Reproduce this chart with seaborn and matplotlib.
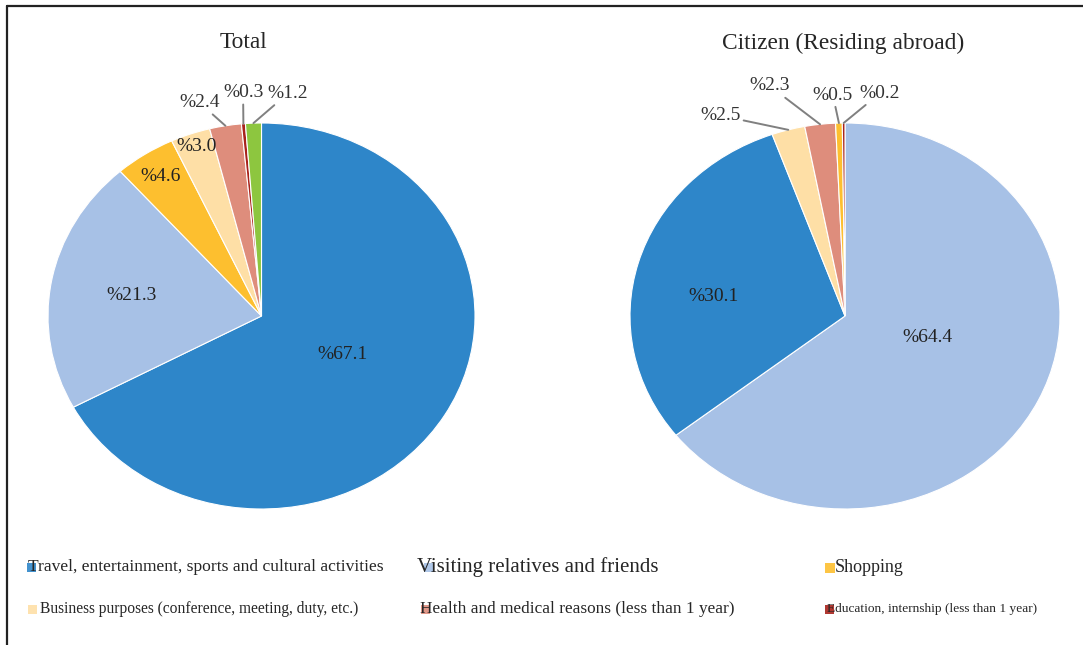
import numpy as np
import matplotlib
matplotlib.use("Agg")
import matplotlib.pyplot as plt
import seaborn as sns
from matplotlib.patches import Rectangle
from matplotlib.lines import Line2D

# ---------------- data ----------------
cat_travel = "Travel, entertainment, sports and cultural activities"
cat_visit = "Visiting relatives and friends"
cat_shop = "Shopping"
cat_business = "Business purposes (conference, meeting, duty, etc.)"
cat_health = "Health and medical reasons (less than 1 year)"
cat_edu = "Education, internship (less than 1 year)"
cat_other = "Other"

total_title = "Total"
total_categories = [cat_travel, cat_visit, cat_shop, cat_business, cat_health, cat_edu, cat_other]
total_values = [67.1, 21.3, 4.6, 3.0, 2.4, 0.3, 1.2]

citizen_title = "Citizen (Residing abroad)"
citizen_categories = [cat_visit, cat_travel, cat_business, cat_health, cat_shop, cat_edu]
citizen_values = [64.4, 30.1, 2.5, 2.3, 0.5, 0.2]

legend_categories = [cat_travel, cat_visit, cat_shop, cat_business, cat_health, cat_edu]

# ---------------- style ----------------
colors = {
    cat_travel: "#2E86C9",
    cat_visit: "#A7C1E6",
    cat_shop: "#FDBF2F",
    cat_business: "#FEDFA6",
    cat_health: "#DE8D7C",
    cat_edu: "#A8231C",
    cat_other: "#8DC63F",
}

# label placement per wedge: (outside?, radial distance, angle offset from wedge middle)
total_label_pos = [(False, 0.43, 3.0), (False, 0.62, 0.3), (False, 0.865, 0.0),
                   (False, 0.93, -0.4), (True, 1.143, 5.0), (True, 1.16, -0.6),
                   (True, 1.16, -8.3)]
citizen_label_pos = [(False, 0.40, 9.4), (False, 0.62, 6.4), (True, 1.19, 13.9),
                     (True, 1.242, 9.7), (True, 1.146, 1.2), (True, 1.166, -8.4)]

sns.set_theme(style="white")
plt.rcParams["font.family"] = ["Liberation Serif", "DejaVu Serif"]

W, H = 1083, 645
fig = plt.figure(figsize=(W / 100, H / 100), dpi=100)
fig.patch.set_facecolor("white")


def px_axes(x0, y0, x1, y1):
    return fig.add_axes([x0 / W, 1 - y1 / H, (x1 - x0) / W, (y1 - y0) / H])


def draw_pie(ax, values, cats, label_pos):
    wedges, _ = ax.pie(values, colors=[colors[c] for c in cats], startangle=90,
                       counterclock=False, radius=1.0,
                       wedgeprops=dict(edgecolor="white", linewidth=0.8))
    ax.set_aspect("auto")
    ax.set_xlim(-1, 1)
    ax.set_ylim(-1, 1)
    ax.axis("off")
    for w, v, (outside, r, dth) in zip(wedges, values, label_pos):
        mid = 0.5 * (w.theta1 + w.theta2)
        ang = np.deg2rad(mid + dth)
        tx, ty = r * np.cos(ang), r * np.sin(ang)
        txt = f"%{v:.1f}"
        if outside:
            ex, ey = np.cos(np.deg2rad(mid)), np.sin(np.deg2rad(mid))
            ax.annotate(txt, xy=(ex, ey), xytext=(tx, ty), ha="center", va="center",
                        fontsize=14, color="#333333", annotation_clip=False,
                        arrowprops=dict(arrowstyle="-", color="#808080", lw=1.4,
                                        shrinkA=0, shrinkB=0))
        else:
            ax.text(tx, ty, txt, ha="center", va="center", fontsize=14, color="#222222")


ax1 = px_axes(48, 123, 475, 509)
draw_pie(ax1, total_values, total_categories, total_label_pos)
ax2 = px_axes(630, 123, 1060, 509)
draw_pie(ax2, citizen_values, citizen_categories, citizen_label_pos)

fig.text(243 / W, 1 - 43 / H, total_title, ha="center", va="center", fontsize=16.8, color="#262626")
fig.text(843 / W, 1 - 43 / H, citizen_title, ha="center", va="center", fontsize=16.8, color="#262626")

# ---------------- legend ----------------
legend_layout = [  # marker x, text x, y, fontsize, marker size
    (27, 28, 567, 12.6, 9),
    (424, 417, 567, 15, 9),
    (825, 835, 568, 13, 10),
    (28, 40, 609, 11.2, 9),
    (421, 420, 609, 12.4, 9),
    (825, 827, 609, 9.6, 9),
]
for cat, (mx, tx, y, fs, ms) in zip(legend_categories, legend_layout):
    fig.patches.append(Rectangle(((mx) / W, 1 - (y + ms / 2) / H), ms / W, ms / H,
                                 transform=fig.transFigure, facecolor=colors[cat],
                                 edgecolor="none", alpha=0.9, zorder=1))
    fig.text(tx / W, 1 - y / H, cat, ha="left", va="center", fontsize=fs,
             color="#262626", zorder=2)

# frame lines (top and left)
fig.add_artist(Line2D([7 / W, 1], [1 - 6 / H, 1 - 6 / H], transform=fig.transFigure,
                      color="#222222", lw=1.6))
fig.add_artist(Line2D([7 / W, 7 / W], [0, 1 - 6 / H], transform=fig.transFigure,
                      color="#222222", lw=1.6))

fig.savefig("out.png", dpi=100)
